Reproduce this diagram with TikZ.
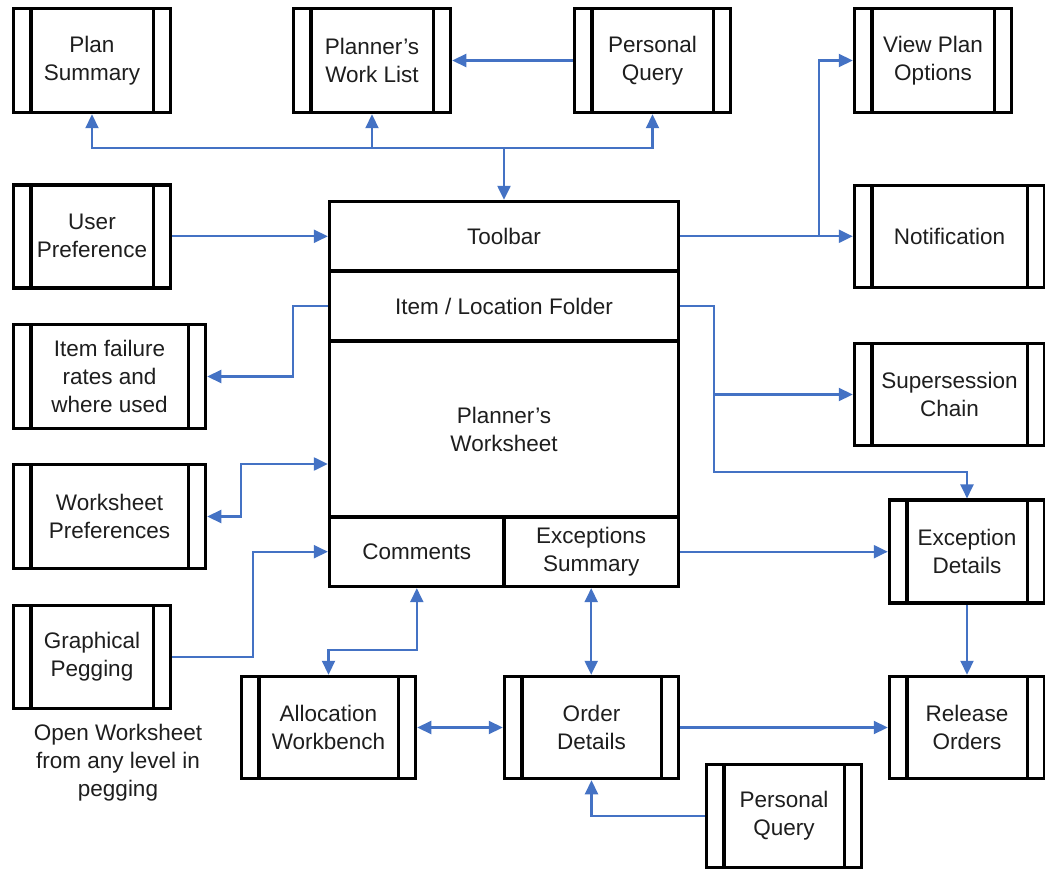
\documentclass[tikz,border=0pt]{standalone}
\usepackage{fontspec}
\setmainfont{Liberation Sans}
\usetikzlibrary{arrows.meta}
\definecolor{linkblue}{HTML}{4472C4}
\definecolor{ink}{HTML}{1E1E1E}
\begin{document}
\begin{tikzpicture}[x=1pt,y=-1pt,
  font=\fontsize{22.5}{28}\selectfont,
  % predefined-process box: outer frame with a band on each side
  proc/.style={draw=black, line width=3.5pt, fill=white, align=center,
    text=ink, inner sep=0pt,
    path picture={
      \draw[line width=3.2pt]
        ([xshift=17.4pt]path picture bounding box.north west) --
        ([xshift=17.4pt]path picture bounding box.south west);
      \draw[line width=3.2pt]
        ([xshift=-17pt]path picture bounding box.north east) --
        ([xshift=-17pt]path picture bounding box.south east);}},
  % compartments of the central worksheet window
  part/.style={draw=black, line width=3.5pt, align=center, text=ink,
    inner sep=0pt},
  link/.style={draw=linkblue, line width=2.2pt,
    -{Triangle[length=14pt,width=13pt]}},
  link2/.style={draw=linkblue, line width=2.2pt,
    {Triangle[length=14pt,width=13pt]}-{Triangle[length=14pt,width=13pt]}},
]
\useasboundingbox (0,0) rectangle (1045,869);
\clip (0,0) rectangle (1045,869);
\fill[white] (0,0) rectangle (1045,869);

% top row
\node[proc, minimum width=157pt, minimum height=104pt] (plansum) at (92,60.5) {Plan\\Summary};
\node[proc, minimum width=157pt, minimum height=104pt] (pwl) at (372,60.5) {Planner’s\\Work List};
\node[proc, minimum width=156pt, minimum height=104pt] (pqtop) at (652.5,60.5) {Personal\\Query};
\node[proc, minimum width=157pt, minimum height=104pt] (vpo) at (933,60.5) {View Plan\\Options};

% left column
\node[proc, minimum width=157pt, minimum height=103pt] (userpref) at (92,236.3) {User\\Preference};
\node[proc, minimum width=192pt, minimum height=104pt] (itemfail) at (109.5,376.5) {Item failure\\rates and\\where used};
\node[proc, minimum width=192pt, minimum height=104pt] (wspref) at (109.5,516.5) {Worksheet\\Preferences};
\node[proc, minimum width=157pt, minimum height=103pt] (graphpeg) at (92,657) {Graphical\\Pegging};
\node[text=ink, align=center] (note) at (118,763) {Open Worksheet\\from any level in\\pegging};

% right column
\node[proc, minimum width=190pt, minimum height=102pt] (notif) at (949.5,236.3) {Notification};
\node[proc, minimum width=190pt, minimum height=102pt] (supers) at (949.5,394.5) {Supersession\\Chain};
\node[proc, minimum width=155pt, minimum height=103pt] (excdet) at (967,551.7) {Exception\\Details};
\node[proc, minimum width=155pt, minimum height=102pt] (relord) at (967,727.5) {Release\\Orders};

% bottom row
\node[proc, minimum width=174pt, minimum height=102pt] (alloc) at (328.5,727.5) {Allocation\\Workbench};
\node[proc, minimum width=174pt, minimum height=102pt] (orddet) at (591.5,727.5) {Order\\Details};
\node[proc, minimum width=155pt, minimum height=103pt] (pqbot) at (784,816) {Personal\\Query};

% central worksheet window
\node[part, minimum width=348.8pt, minimum height=69.4pt] (toolbar) at (504,236.3) {Toolbar};
\node[part, minimum width=348.8pt, minimum height=70pt] (itemloc) at (504,306) {Item / Location Folder};
\node[part, minimum width=348.8pt, minimum height=176pt] (worksheet) at (504,429) {Planner’s\\Worksheet};
\node[part, minimum width=174.4pt, minimum height=69.4pt] (comments) at (416.8,551.7) {Comments};
\node[part, minimum width=174.4pt, minimum height=69.4pt] (excsum) at (591.2,551.7) {Exceptions\\Summary};

% connectors above the toolbar
\coordinate (hub) at (504,148);
\draw[link] (hub) -- (toolbar.north);
\draw[link] (hub) -| (plansum.south);
\draw[link] (hub) -| (pwl.south);
\draw[link] (hub) -| (pqtop.south);
\draw[link] (pqtop.west) -- (pwl.east);

% toolbar connectors
\draw[link] (userpref.east) -- (toolbar.west);
\draw[link] (toolbar.east) -- (notif.west);
\coordinate (tbsplit) at (819,236.3);
\draw[link] (tbsplit) |- (vpo.west);

% item / location folder connectors
\draw[link] (itemloc.east) -| (714,472) -| (excdet.north);
\coordinate (ilsplit) at (714,394.5);
\draw[link] (ilsplit) -- (supers.west);
\draw[link] (itemloc.west) -- ++(-35,0) |- (itemfail.east);

% worksheet and lower compartments
\draw[link2] (wspref.east) -| (241,464) -- (worksheet.west |- 241,464);
\draw[link] (graphpeg.east) -- ++(81,0) |- (comments.west);
\draw[link2] (comments.south) |- (alloc.north |- 0,650) -- (alloc.north);
\draw[link2] (excsum.south) -- (excsum.south |- orddet.north);
\draw[link] (excsum.east) -- (excsum.east -| excdet.west);

% bottom flow
\draw[link] (excdet.south) -- (relord.north);
\draw[link2] (alloc.east) -- (orddet.west);
\draw[link] (orddet.east) -- (relord.west);
\draw[link] (pqbot.west) -| (orddet.south);
\end{tikzpicture}
\end{document}
